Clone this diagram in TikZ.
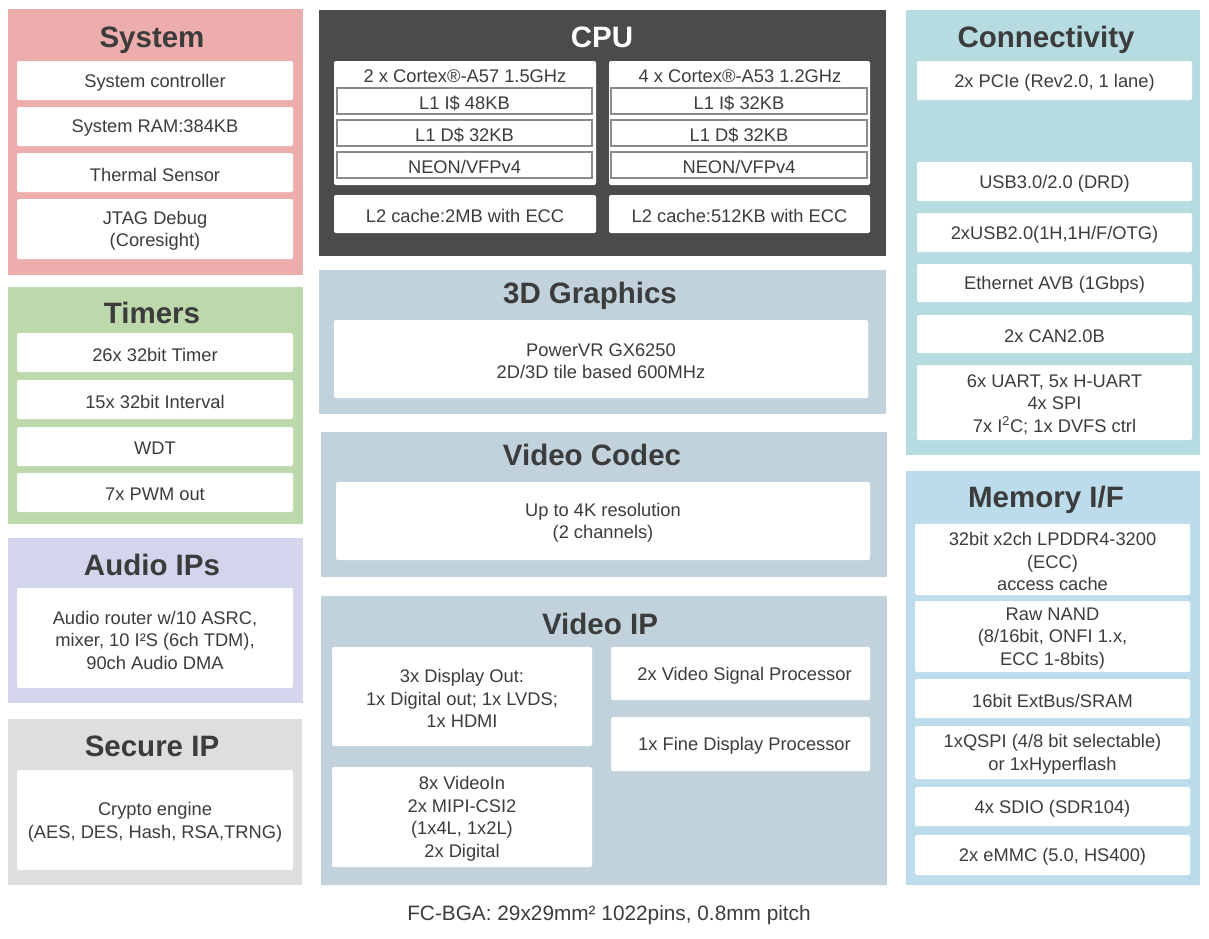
\documentclass[tikz,border=0pt]{standalone}
\usepackage{fontspec}
\setmainfont{Liberation Sans}
\definecolor{sysc}{HTML}{EEADAD}
\definecolor{timc}{HTML}{BDD9AC}
\definecolor{audc}{HTML}{D3D5EC}
\definecolor{secc}{HTML}{DEDEDE}
\definecolor{cpuc}{HTML}{4B4B4B}
\definecolor{vidc}{HTML}{C1D2DC}
\definecolor{conc}{HTML}{B6DCE2}
\definecolor{memc}{HTML}{BCDCEC}
\definecolor{txtc}{HTML}{3C3C3C}
\definecolor{l1c}{HTML}{8A8A8A}
\newcommand\blk[7][wbox]{%
  \node[#1, minimum width={(#5)-(#3)}, minimum height={(#6)-(#4)}] (#2)
    at ({((#3)+(#5))/2},{((#4)+(#6))/2}) {};
  \node[lbl] (#2-t) at ([yshift=-2pt]#2.center) {#7};}
\begin{document}
\begin{tikzpicture}[x=1pt,y=-1pt,
  every node/.style={inner sep=0pt, outer sep=0pt, align=center, text=txtc,
    font=\fontsize{18.3}{22.5}\selectfont},
  lbl/.style={},
  panel/.style={rectangle},
  wbox/.style={rectangle, fill=white, rounded corners=2pt},
  l1box/.style={rectangle, fill=white, draw=l1c, line width=1.2pt},
  ttl/.style={font=\fontsize{29.5}{32}\selectfont\bfseries, anchor=center,
    text height=21pt, text depth=6.2pt, yshift=-3pt}
]
\useasboundingbox (0,0) rectangle (1209,938);
\fill[white] (0,0) rectangle (1209,938);

% ---------- System ----------
\blk[panel,fill=sysc]{sysP}{8}{9}{303}{275}{}
\node[ttl] (sysT) at (152,37) {System};
\blk{sys1}{17}{61}{293}{100}{System controller}
\blk{sys2}{17}{107}{293}{146}{System RAM:384KB}
\blk{sys3}{17}{153}{293}{192}{Thermal Sensor}
\blk{sys4}{17}{199}{293}{259}{JTAG Debug\\(Coresight)}

% ---------- Timers ----------
\blk[panel,fill=timc]{timP}{8}{287}{303}{524}{}
\node[ttl] (timT) at (152,313) {Timers};
\blk{tim1}{17}{333}{293}{372}{26x 32bit Timer}
\blk{tim2}{17}{380}{293}{419}{15x 32bit Interval}
\blk{tim3}{17}{427}{293}{466}{WDT}
\blk{tim4}{17}{473}{293}{512}{7x PWM out}

% ---------- Audio ----------
\blk[panel,fill=audc]{audP}{8}{538}{303}{703}{}
\node[ttl] (audT) at (152,565) {Audio IPs};
\blk{aud1}{17}{588}{293}{688}{Audio router w/10 ASRC,\\ mixer, 10 I²S (6ch TDM),\\90ch Audio DMA}

% ---------- Secure ----------
\blk[panel,fill=secc]{secP}{8}{719}{302}{885}{}
\node[ttl] (secT) at (152,746) {Secure IP};
\blk{sec1}{17}{770}{293}{870}{Crypto engine\\(AES, DES, Hash, RSA,TRNG)}

% ---------- CPU ----------
\blk[panel,fill=cpuc]{cpuP}{319}{10}{886}{256}{}
\node[ttl,text=white] (cpuT) at (602,37) {CPU};
\blk{cpuA}{334}{61}{596}{185}{}
\node (cpuAh) at (465,76) {2 x Cortex®-A57 1.5GHz};
\blk[l1box]{cpuA1}{337}{88}{592}{114}{L1 I\$ 48KB}
\blk[l1box]{cpuA2}{337}{120}{592}{146}{L1 D\$ 32KB}
\blk[l1box]{cpuA3}{337}{152}{592}{178}{NEON/VFPv4}
\blk{cpuB}{609}{61}{870}{185}{}
\node (cpuBh) at (740,76) {4 x Cortex®-A53 1.2GHz};
\blk[l1box]{cpuB1}{611}{88}{867}{114}{L1 I\$ 32KB}
\blk[l1box]{cpuB2}{611}{120}{867}{146}{L1 D\$ 32KB}
\blk[l1box]{cpuB3}{611}{152}{867}{178}{NEON/VFPv4}
\blk{cpuL2A}{334}{195}{596}{233}{L2 cache:2MB with ECC}
\blk{cpuL2B}{609}{195}{870}{233}{L2 cache:512KB with ECC}

% ---------- 3D Graphics ----------
\blk[panel,fill=vidc]{gfxP}{319}{270}{886}{414}{}
\node[ttl] (gfxT) at (590,293) {3D Graphics};
\blk{gfx1}{334}{320}{868}{398}{PowerVR GX6250\\2D/3D tile based 600MHz}

% ---------- Video Codec ----------
\blk[panel,fill=vidc]{vcP}{321}{432}{887}{577}{}
\node[ttl] (vcT) at (592,455) {Video Codec};
\blk{vc1}{336}{482}{870}{560}{Up to 4K resolution\\(2 channels)}

% ---------- Video IP ----------
\blk[panel,fill=vidc]{vipP}{321}{596}{887}{885}{}
\node[ttl] (vipT) at (600,624) {Video IP};
\blk{vip1}{332}{647}{592}{746}{3x Display Out:\\1x Digital out; 1x LVDS;\\1x HDMI}
\blk{vip2}{332}{767}{592}{867}{8x VideoIn\\2x MIPI-CSI2\\(1x4L, 1x2L)\\2x Digital}
\blk{vip3}{611}{647}{870}{700}{\hspace*{8pt}2x Video Signal Processor}
\blk{vip4}{611}{717}{870}{771}{\hspace*{8pt}1x Fine Display Processor}

% ---------- Connectivity ----------
\blk[panel,fill=conc]{conP}{906}{10}{1200}{455}{}
\node[ttl] (conT) at (1046,37) {Connectivity};
\blk{con1}{917}{61}{1192}{100}{2x PCIe (Rev2.0, 1 lane)}
\blk{con2}{917}{162}{1192}{201}{USB3.0/2.0 (DRD)}
\blk{con3}{917}{213}{1192}{252}{2xUSB2.0(1H,1H/F/OTG)}
\blk{con4}{917}{264}{1192}{302}{Ethernet AVB (1Gbps)}
\blk{con5}{917}{315}{1192}{353}{2x CAN2.0B}
\blk{con6}{917}{365}{1192}{440}{6x UART, 5x H-UART\\4x SPI\\7x I\textsuperscript{2}C; 1x DVFS ctrl}

% ---------- Memory I/F ----------
\blk[panel,fill=memc]{memP}{906}{471}{1200}{885}{}
\node[ttl] (memT) at (1046,497) {Memory I/F};
\blk{mem1}{915}{524}{1190}{595}{32bit x2ch LPDDR4-3200\\(ECC)\\access cache}
\blk{mem2}{915}{601}{1190}{672}{Raw NAND\\(8/16bit, ONFI 1.x,\\ECC 1-8bits)}
\blk{mem3}{915}{679}{1190}{718}{16bit ExtBus/SRAM}
\blk{mem4}{915}{726}{1190}{779}{1xQSPI (4/8 bit selectable)\\or 1xHyperflash}
\blk{mem5}{915}{787}{1190}{826}{4x SDIO (SDR104)}
\blk{mem6}{915}{835}{1190}{875}{2x eMMC (5.0, HS400)}

% ---------- Footer ----------
\node[font=\fontsize{20.8}{24}\selectfont] (foot) at (609,915) {FC-BGA: 29x29mm² 1022pins, 0.8mm pitch};
\end{tikzpicture}
\end{document}
